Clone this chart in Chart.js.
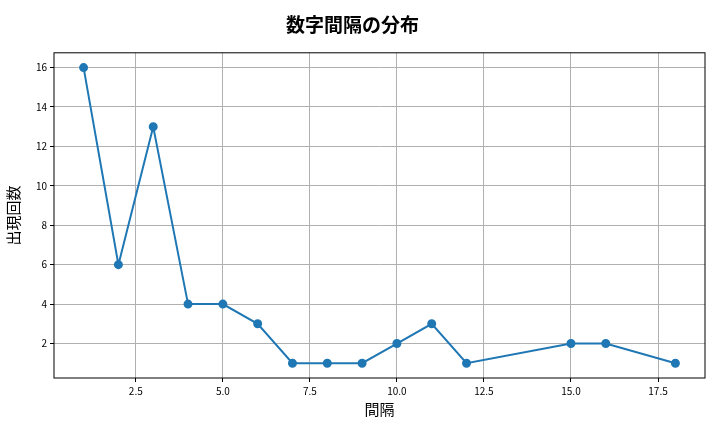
<!DOCTYPE html>
<html>
<head>
<meta charset="utf-8">
<script src="https://cdn.jsdelivr.net/npm/chart.js@4/dist/chart.umd.min.js"></script>
<style>
  body { margin: 0; background: #fff; }
  #wrap { width: 720px; height: 432px; }
</style>
</head>
<body>
<div id="wrap"><canvas id="gapChart"></canvas></div>
<script>
// 間隔ごとの出現回数
const gaps = [1, 2, 3, 4, 5, 6, 7, 8, 9, 10, 11, 12, 15, 16, 18];
const counts = [16, 6, 13, 4, 4, 3, 1, 1, 1, 2, 3, 1, 2, 2, 1];
const xTicks = [2.5, 5.0, 7.5, 10.0, 12.5, 15.0, 17.5];
const yTicks = [2, 4, 6, 8, 10, 12, 14, 16];

const font = "'Noto Sans CJK JP', 'Noto Sans', sans-serif";

// 外枠を描く
const frame = {
  id: 'frame',
  afterDraw(chart) {
    const { ctx, chartArea: a } = chart;
    ctx.save();
    ctx.strokeStyle = '#000';
    ctx.lineWidth = 1;
    ctx.strokeRect(a.left, a.top, a.right - a.left, a.bottom - a.top);
    ctx.restore();
  }
};

new Chart(document.getElementById('gapChart'), {
  type: 'line',
  data: {
    datasets: [{
      data: gaps.map((g, i) => ({ x: g, y: counts[i] })),
      borderColor: '#1f77b4',
      backgroundColor: '#1f77b4',
      borderWidth: 2,
      pointRadius: 3.5,
      pointHoverRadius: 3.5,
      tension: 0
    }]
  },
  options: {
    responsive: true,
    maintainAspectRatio: false,
    animation: false,
    layout: { padding: { left: 0, right: 15, top: 0, bottom: 10 } },
    plugins: {
      legend: { display: false },
      tooltip: { enabled: false },
      title: {
        display: true,
        text: '数字間隔の分布',
        color: '#000',
        font: { family: font, size: 19, weight: 'bold' },
        padding: { top: 13, bottom: 17 }
      }
    },
    scales: {
      x: {
        type: 'linear',
        min: 0.15,
        max: 18.85,
        afterBuildTicks: s => { s.ticks = xTicks.map(v => ({ value: v })); },
        ticks: {
          callback: v => v.toFixed(1),
          color: '#000',
          font: { family: font, size: 10 },
          maxRotation: 0
        },
        grid: { color: '#b0b0b0', tickColor: '#000', tickLength: 4 },
        border: { display: false },
        title: {
          display: true,
          text: '間隔',
          color: '#000',
          font: { family: font, size: 15 },
          padding: { top: 0 }
        }
      },
      y: {
        min: 0.25,
        max: 16.75,
        afterBuildTicks: s => { s.ticks = yTicks.map(v => ({ value: v })); },
        afterFit: s => { s.width = 54; },
        ticks: {
          color: '#000',
          font: { family: font, size: 10 }
        },
        grid: { color: '#b0b0b0', tickColor: '#000', tickLength: 4 },
        border: { display: false },
        title: {
          display: true,
          text: '出現回数',
          color: '#000',
          font: { family: font, size: 15 },
          padding: { bottom: 2 }
        }
      }
    }
  },
  plugins: [frame]
});
</script>
</body>
</html>
